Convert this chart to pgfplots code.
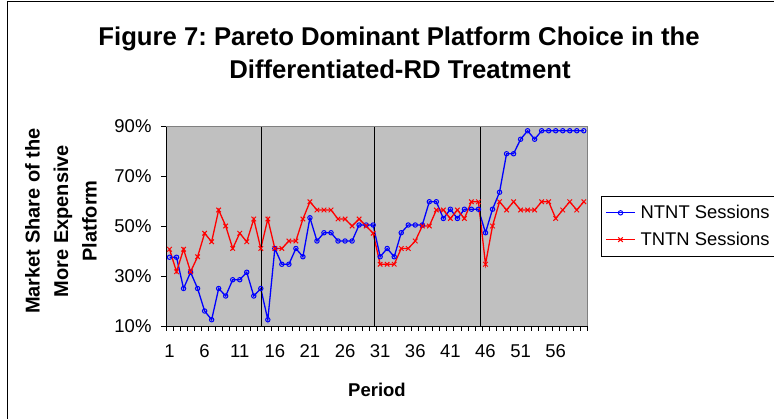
\documentclass[border=0pt]{standalone}
\usepackage{fontspec}
\setmainfont{Liberation Sans}
\usepackage{pgfplots}
\pgfplotsset{compat=1.18}
\definecolor{plotgray}{RGB}{192,192,192}
\definecolor{bordergray}{RGB}{128,128,128}
\definecolor{nblue}{RGB}{0,0,255}
\definecolor{tred}{RGB}{255,0,0}
\frenchspacing
\begin{document}
\begin{tikzpicture}[x=1pt,y=1pt]
\draw[black, line width=1pt] (7.5,-600) -- (7.5,-1.7) -- (1000,-1.7);
\node[anchor=base, font=\fontsize{25.7}{28}\selectfont\bfseries] at (399,-46) {Figure 7: Pareto Dominant Platform Choice in the};
\node[anchor=base, font=\fontsize{25.7}{28}\selectfont\bfseries] at (400,-78.5) {Differentiated-RD Treatment};
\node[rotate=90, align=center, font=\fontsize{20}{28.5}\selectfont\bfseries] at (61,-221) {Market Share of the\\More Expensive\\Platform};
\node[anchor=base, font=\fontsize{18.5}{20}\selectfont\bfseries] at (377,-397) {Period};
\begin{axis}[
  at={(166pt,-326pt)}, anchor=south west,
  scale only axis, width=421.3pt, height=200pt,
  xmin=0.5, xmax=60.5, ymin=10, ymax=90,
  axis background/.style={fill=plotgray},
  axis x line*=bottom, axis y line*=left,
  axis line style={black, line width=0.8pt},
  x axis line style={-}, y axis line style={-},
  xtick={0.5,1.5,...,60.5},
  xticklabels={},
  extra x ticks={1,6,...,56},
  extra x tick labels={1,6,11,16,21,26,31,36,41,46,51,56},
  extra x tick style={major tick length=0pt, xticklabel style={yshift=-15pt}},
  ytick={10,30,50,70,90},
  yticklabels={10\%,30\%,50\%,70\%,90\%},
  major tick length=5pt,
  tick align=outside,
  tick style={black, line width=0.8pt},
  ticklabel style={font=\fontsize{18.5}{20}\selectfont},
  yticklabel style={xshift=-6pt},
  clip=false,
  legend style={at={(1.0325,0.65)}, anchor=north west, draw=black, line width=0.8pt,
    fill=white, font=\fontsize{18.4}{20}\selectfont, row sep=8pt, column sep=3pt,
    inner xsep=4pt, inner ysep=7pt},
  legend cell align=left,
  legend image code/.code={
    \draw[#1] (0pt,0pt) -- (29pt,0pt);
    \draw[#1, only marks] plot coordinates {(14.5pt,0pt)};
  },
]
\addplot[nblue, line width=1.3pt, mark=o, mark size=2.2pt, mark options={line width=1pt, fill=plotgray}] coordinates {
(1,37.5)(2,37.5)(3,25)(4,31.5)(5,25)(6,16)(7,12.5)(8,25)(9,22)(10,28.5)
(11,28.5)(12,31.5)(13,22)(14,25)(15,12.5)(16,41)(17,34.7)(18,34.7)(19,41)(20,37.7)
(21,53.3)(22,44)(23,47.3)(24,47.3)(25,44)(26,44)(27,44)(28,50.4)(29,50.4)(30,50.4)
(31,37.7)(32,41)(33,37.7)(34,47.3)(35,50.4)(36,50.4)(37,50.4)(38,59.7)(39,59.7)(40,53)
(41,56.7)(42,53)(43,56.7)(44,56.7)(45,56.7)(46,47.3)(47,56.7)(48,63.5)(49,78.9)(50,78.9)
(51,84.7)(52,88.1)(53,84.7)(54,88.1)(55,88.1)(56,88.1)(57,88.1)(58,88.1)(59,88.1)(60,88.1)
};
\addlegendentry{NTNT Sessions}
\addplot[tred, line width=1.3pt, mark=x, mark size=3.2pt, mark options={line width=1pt}] coordinates {
(1,40.7)(2,31.7)(3,40.7)(4,31.7)(5,37.7)(6,47.1)(7,43.7)(8,56.4)(9,50)(10,41)
(11,47.1)(12,43.7)(13,52.8)(14,41)(15,52.8)(16,41)(17,41)(18,44)(19,44)(20,52.8)
(21,59.7)(22,56.4)(23,56.4)(24,56.4)(25,52.8)(26,52.8)(27,50)(28,52.8)(29,50)(30,47.1)
(31,34.7)(32,34.7)(33,34.7)(34,41)(35,41)(36,44)(37,50)(38,50)(39,56.4)(40,56.4)
(41,53)(42,56.4)(43,53)(44,59.7)(45,59.7)(46,34.7)(47,50)(48,59.7)(49,56.4)(50,59.7)
(51,56.4)(52,56.4)(53,56.4)(54,59.7)(55,59.7)(56,53)(57,56.4)(58,59.7)(59,56.4)(60,59.7)
};
\addlegendentry{TNTN Sessions}
\addplot[black, line width=1.5pt, forget plot] coordinates {(14.1,10)(14.1,90)};
\addplot[black, line width=1.5pt, forget plot] coordinates {(30.2,10)(30.2,90)};
\addplot[black, line width=1.5pt, forget plot] coordinates {(45.3,10)(45.3,90)};
\draw[bordergray, line width=0.8pt] (rel axis cs:0,1) -- (rel axis cs:1,1) -- (rel axis cs:1,0);
\end{axis}
\pgfresetboundingbox
\useasboundingbox (0,0) rectangle (774,-419);
\end{tikzpicture}
\end{document}
